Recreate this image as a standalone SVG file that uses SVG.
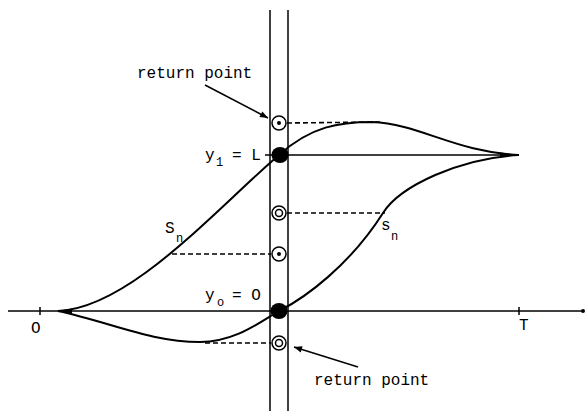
<svg xmlns="http://www.w3.org/2000/svg" width="585" height="411" viewBox="0 0 585 411">
<defs>
<style>
.ln{stroke:#000;stroke-width:1.5;fill:none}
.cv{stroke:#000;stroke-width:2;fill:none}
.ds{stroke:#000;stroke-width:1.6;fill:none;stroke-dasharray:5 3}
.t{font-family:"Liberation Mono","DejaVu Sans Mono",monospace;font-size:16px;fill:#000}
.s{font-family:"Liberation Mono","DejaVu Sans Mono",monospace;font-size:12px;fill:#000}
.rp{fill:#fff;stroke:#000;stroke-width:1.5}
</style>
<marker id="ah" viewBox="0 0 10 10" refX="10" refY="5" markerWidth="10" markerHeight="8" markerUnits="userSpaceOnUse" orient="auto">
<path d="M0,1 L10,5 L0,9 Z" fill="#000"/>
</marker>
</defs>
<rect width="585" height="411" fill="#fff"/>
<g id="axes">
<line class="ln" x1="8" y1="311" x2="583" y2="311"/>
<line class="ln" x1="40" y1="307" x2="40" y2="315"/>
<line class="ln" x1="519" y1="307" x2="519" y2="315"/>
<circle cx="583" cy="311" r="2" fill="#000"/>
<line class="ln" x1="270" y1="10" x2="270" y2="411"/>
<line class="ln" x1="288" y1="10" x2="288" y2="411"/>
<line class="ln" x1="265" y1="155" x2="519" y2="155"/>
</g>
<g id="curves">
<path class="cv" d="M58 311 C130 308 215 210 279 155 C311 126 340 122 372 122 C420 124 455 152 519 155"/>
<path class="cv" d="M58 311 C110 322 150 342 200 342 C235 342 260 322 279 311 C305 298 350 265 383 213 C400 186 460 158 519 155"/>
<path d="M500 152.5 L519 155 L500 157.5 Z" fill="#000"/>
<path d="M58 311 L72 308.5 L72 313.5 Z" fill="#000"/>
</g>
<g id="connectors">
<line class="ds" x1="287" y1="123" x2="380" y2="122"/>
<line class="ds" x1="287" y1="213" x2="385" y2="213"/>
<line class="ds" x1="172" y1="254" x2="271" y2="254"/>
<line class="ds" x1="205" y1="343" x2="271" y2="343"/>
<line class="ln" x1="205" y1="85" x2="268" y2="118" marker-end="url(#ah)"/>
<line class="ln" x1="358" y1="367" x2="294" y2="347" marker-end="url(#ah)"/>
</g>
<g id="dot-L"><ellipse cx="280" cy="155" rx="8.5" ry="8" fill="#000"/></g>
<g id="dot-0"><ellipse cx="279" cy="311" rx="8.5" ry="8" fill="#000"/></g>
<g id="rp-top"><circle class="rp" cx="279" cy="123" r="7"/><circle cx="279" cy="123" r="2" fill="#000"/></g>
<g id="rp-mid"><circle class="rp" cx="279" cy="213" r="7"/><circle cx="279" cy="213" r="3.5" fill="none" stroke="#000" stroke-width="1.5"/></g>
<g id="rp-low"><circle class="rp" cx="279" cy="254" r="7"/><circle cx="279" cy="254" r="2" fill="#000"/></g>
<g id="rp-bot"><circle class="rp" cx="279" cy="343" r="7"/><circle cx="279" cy="343" r="3.5" fill="none" stroke="#000" stroke-width="1.5"/></g>
<g id="labels">
<text class="t" x="137" y="78">return point</text>
<text class="t" x="314" y="385">return point</text>
<text class="t" x="205" y="160">y</text><text class="s" x="216" y="166">1</text><text class="t" x="232" y="160">= L</text>
<text class="t" x="205" y="300">y</text><text class="s" x="217" y="306">o</text><text class="t" x="232" y="300">= O</text>
<text class="t" x="165" y="233">S</text><text class="s" x="176" y="242">n</text>
<text class="t" x="381" y="230">s</text><text class="s" x="391" y="240">n</text>
<text class="t" x="31" y="333">O</text>
<text class="t" x="519" y="330">T</text>
</g>
</svg>
